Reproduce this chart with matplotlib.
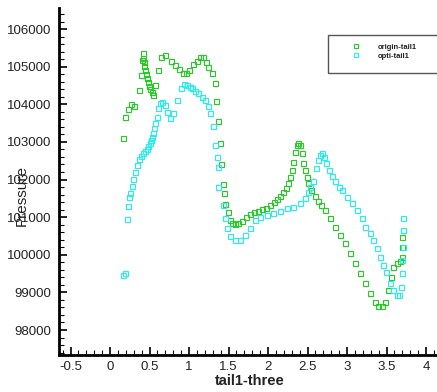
import matplotlib
matplotlib.use("Agg")
import matplotlib.pyplot as plt
from matplotlib.patches import Rectangle
from matplotlib.ticker import MultipleLocator

plt.rcParams['font.family'] = ['Liberation Sans', 'DejaVu Sans']

# origin-tail1 (green)
origin_x = [0.165, 0.190, 0.228, 0.266, 0.304, 0.367, 0.392, 0.405, 0.418, 0.418,
            0.430, 0.430, 0.443, 0.456, 0.468, 0.481, 0.494, 0.506, 0.532, 0.544,
            0.570, 0.608, 0.646, 0.696, 0.772, 0.823, 0.873, 0.924, 0.962, 1.000,
            1.051, 1.101, 1.139, 1.177, 1.215, 1.241, 1.291, 1.329, 1.342, 1.367,
            1.392, 1.405, 1.430, 1.443, 1.456, 1.494, 1.519, 1.544, 1.582, 1.620,
            1.671, 1.722, 1.772, 1.823, 1.873, 1.924, 1.975, 2.025, 2.076, 2.114,
            2.152, 2.190, 2.228, 2.253, 2.278, 2.304, 2.316, 2.342, 2.367, 2.380,
            2.405, 2.430, 2.443, 2.468, 2.494, 2.506, 2.544, 2.595, 2.633, 2.671,
            2.722, 2.785, 2.848, 2.911, 2.975, 3.038, 3.101, 3.165, 3.228, 3.291,
            3.354, 3.392, 3.443, 3.481, 3.519, 3.557, 3.582, 3.633, 3.671, 3.696,
            3.696, 3.696, 3.709]
origin_p = [103103, 103662, 103874, 104007, 103954, 104380, 104778, 105177, 105363, 105230,
            105123, 105017, 104911, 104804, 104698, 104592, 104486, 104406, 104326, 104246,
            104512, 104911, 105256, 105310, 105150, 105044, 104937, 104831, 104831, 104911,
            105070, 105150, 105256, 105256, 105123, 104991, 104831, 104565, 104087, 103555,
            102970, 102412, 101881, 101641, 101349, 101136, 100924, 100844, 100817, 100844,
            100897, 101004, 101083, 101136, 101163, 101216, 101243, 101323, 101402, 101482,
            101562, 101668, 101774, 101907, 102067, 102253, 102465, 102731, 102917, 102970,
            102917, 102705, 102439, 102253, 102067, 101907, 101721, 101562, 101429, 101323,
            101190, 100977, 100738, 100525, 100312, 100047, 99781, 99515, 99249, 98983,
            98744, 98638, 98638, 98744, 99063, 99409, 99675, 99781, 99834, 99940,
            100206, 100472, 100658]

# opti-tail1 (cyan)
opti_x = [0.165, 0.190, 0.215, 0.228, 0.241, 0.253, 0.278, 0.291, 0.316, 0.342,
          0.367, 0.392, 0.418, 0.443, 0.468, 0.481, 0.506, 0.519, 0.532, 0.544,
          0.557, 0.570, 0.595, 0.608, 0.633, 0.658, 0.696, 0.722, 0.759, 0.797,
          0.848, 0.899, 0.937, 0.975, 1.013, 1.038, 1.076, 1.114, 1.165, 1.203,
          1.241, 1.266, 1.304, 1.329, 1.354, 1.367, 1.367, 1.430, 1.456, 1.481,
          1.519, 1.582, 1.646, 1.709, 1.772, 1.835, 1.899, 1.987, 2.063, 2.152,
          2.241, 2.316, 2.405, 2.468, 2.506, 2.532, 2.570, 2.608, 2.633, 2.658,
          2.684, 2.709, 2.734, 2.772, 2.810, 2.848, 2.899, 2.937, 3.000, 3.063,
          3.127, 3.190, 3.228, 3.291, 3.329, 3.380, 3.418, 3.456, 3.494, 3.544,
          3.582, 3.633, 3.658, 3.684, 3.696, 3.696, 3.709, 3.709, 3.709]
opti_p = [99462, 99515, 100950, 101296, 101535, 101641, 101828, 102014, 102200, 102386,
          102545, 102625, 102705, 102758, 102811, 102891, 102970, 103050, 103130, 103236,
          103369, 103502, 103662, 103901, 104034, 104060, 103981, 103794, 103635, 103768,
          104113, 104432, 104539, 104512, 104459, 104432, 104353, 104299, 104193, 104113,
          103954, 103768, 103422, 102917, 102598, 102333, 101801, 101323, 100977, 100711,
          100499, 100392, 100392, 100525, 100711, 100924, 101004, 101057, 101110, 101163,
          101243, 101269, 101376, 101509, 101668, 101801, 101960, 102306, 102519, 102652,
          102705, 102598, 102439, 102253, 102093, 101960, 101801, 101721, 101535, 101376,
          101190, 100977, 100738, 100578, 100392, 100180, 99940, 99728, 99542, 99249,
          99063, 98930, 98930, 99143, 99515, 99861, 100206, 100658, 100977]

green = '#22cc22'
cyan = '#22f0f0'

fig = plt.figure(figsize=(4.37, 3.92), dpi=100)
ax = fig.add_axes([0.134, 0.0944, 0.866, 0.885])

ax.plot(origin_x, origin_p, 's', ms=3.6, mfc='none', mec=green, mew=0.8,
        label='origin-tail1')
ax.plot(opti_x, opti_p, 's', ms=3.6, mfc='none', mec=cyan, mew=0.8,
        label='opti-tail1')

ax.set_xlim(-0.652, 4.139)
ax.set_ylim(97336, 106558)

ax.spines['top'].set_visible(False)
ax.spines['right'].set_visible(False)
ax.spines['left'].set_linewidth(2)
ax.spines['bottom'].set_linewidth(2)

ax.xaxis.set_major_locator(MultipleLocator(0.5))
ax.xaxis.set_minor_locator(MultipleLocator(0.1))
ax.yaxis.set_major_locator(MultipleLocator(1000))
ax.yaxis.set_minor_locator(MultipleLocator(200))
ax.set_xticks([-0.5, 0, 0.5, 1, 1.5, 2, 2.5, 3, 3.5, 4])
ax.set_xticklabels(['-0.5', '0', '0.5', '1', '1.5', '2', '2.5', '3', '3.5', '4'])
ax.set_yticks(range(98000, 106001, 1000))
ax.set_yticklabels([str(v) for v in range(98000, 106001, 1000)])

ax.tick_params(which='major', direction='in', length=6, width=1.2,
               labelsize=9.5, labelcolor='#222222')
ax.tick_params(which='minor', direction='in', length=3.5, width=0.8)
ax.tick_params(axis='y', pad=5)
ax.tick_params(axis='x', pad=4)

fig.text(250 / 437, 1 - 381 / 392, 'tail1-three', ha='center', va='center',
         fontsize=10.5, fontweight='bold', color='#222222')
fig.text(22 / 437, 1 - 196 / 392, 'Pressure', ha='center', va='center',
         rotation=90, fontsize=11, color='#222222')

leg = ax.legend(loc='upper left', bbox_to_anchor=(348 / 437, 1 - 40 / 392),
                bbox_transform=fig.transFigure, frameon=False, fontsize=5.5,
                handletextpad=2.2, labelspacing=0.15, borderpad=0,
                handlelength=1.2, markerscale=0.9)
for t in leg.get_texts():
    t.set_fontweight('bold')
    t.set_color('#222222')

fig.patches.append(Rectangle((328 / 437, 1 - 73 / 392), 0.3, 38 / 392,
                             transform=fig.transFigure, fill=False,
                             edgecolor='#555555', linewidth=1))

fig.savefig('out.png', dpi=100)
